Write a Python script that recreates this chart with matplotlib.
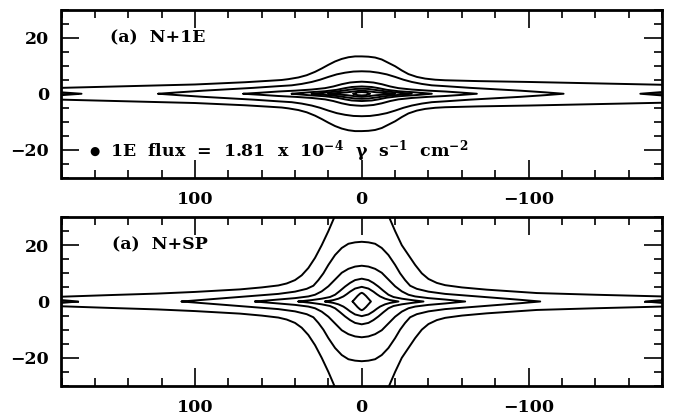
import matplotlib
matplotlib.use("Agg")
import matplotlib.pyplot as plt
from matplotlib.ticker import FixedLocator, MultipleLocator

plt.rcParams['font.family'] = ['DejaVu Serif', 'DejaVu Sans']
plt.rcParams['font.weight'] = 'bold'
plt.rcParams['mathtext.fontset'] = 'custom'
plt.rcParams['mathtext.rm'] = 'DejaVu Serif:bold'
plt.rcParams['mathtext.default'] = 'rm'

# Axis ranges and ticks (galactic longitude runs right-to-left)
lon_limits = [180, -180]
lat_limits = [-30, 30]
lon_major = [100, 0, -100]
lat_major = [-20, 0, 20]
lon_minor_step = 20
lat_minor_step = 5

panel_titles = ["(a)  N+1E", "(a)  N+SP"]
flux_label = "1E  flux  =  1.81  x  10$^{-4}$  \u03b3  s$^{-1}$  cm$^{-2}$"

# ---- N+1E model: contour half-widths in latitude (deg) vs longitude (deg) ----
# outermost level: open band across the whole sky
n1e_c1_l = [180, 140, 100, 70, 56, 48, 44, 38, 33, 28, 24, 20, 16, 12, 8, 4, 0,
            -4, -8, -12, -16, -20, -24, -28, -33, -38, -44, -50, -70, -100, -140, -180]
n1e_c1_b = [2.1, 2.7, 3.3, 4.1, 4.6, 4.9, 5.2, 5.8, 6.6, 7.8, 9.0, 10.3, 11.5, 12.4, 13.0, 13.3, 13.3,
            13.2, 12.9, 12.2, 11.0, 9.8, 8.3, 7.0, 6.0, 5.4, 5.0, 4.8, 4.5, 4.2, 3.7, 3.2]
n1e_c2_l = [122, 110, 95, 80, 65, 50, 42, 36, 30, 25, 20, 15, 10, 5, 0,
            -5, -10, -15, -20, -25, -30, -36, -42, -50, -65, -80, -95, -110, -121]
n1e_c2_b = [0.0, 0.5, 1.1, 1.6, 2.1, 2.7, 3.0, 3.5, 4.2, 5.0, 6.0, 6.9, 7.5, 7.9, 8.0,
            7.9, 7.5, 6.9, 6.0, 5.0, 4.2, 3.5, 3.0, 2.7, 2.1, 1.6, 1.1, 0.5, 0.0]
n1e_c3_l = [71, 60, 50, 40, 30, 22, 17, 12, 7, 3, 0, -3, -7, -12, -17, -22, -30, -40, -50, -60, -69]
n1e_c3_b = [0.0, 0.4, 0.8, 1.1, 1.5, 2.0, 2.6, 3.4, 4.0, 4.2, 4.3, 4.2, 4.0, 3.4, 2.6, 2.0, 1.5, 1.1, 0.8, 0.4, 0.0]
n1e_c4_l = [42, 32, 22, 15, 10, 6, 0, -6, -10, -15, -22, -32, -42]
n1e_c4_b = [0.0, 0.5, 0.9, 1.4, 2.0, 2.4, 2.6, 2.4, 2.0, 1.4, 0.9, 0.5, 0.0]
n1e_c5_l = [30, 22, 15, 9, 4, 0, -4, -9, -15, -22, -30]
n1e_c5_b = [0.0, 0.4, 0.8, 1.3, 1.7, 1.8, 1.7, 1.3, 0.8, 0.4, 0.0]
n1e_c6_l = [20, 14, 9, 5, 2, 0, -2, -5, -9, -14, -20]
n1e_c6_b = [0.0, 0.3, 0.5, 0.8, 1.0, 1.1, 1.0, 0.8, 0.5, 0.3, 0.0]
n1e_c7_l = [5, 2.5, 0, -2.5, -5]
n1e_c7_b = [0.0, 0.5, 0.6, 0.5, 0.0]
# small lens wrapping round the anticentre (l = +/-180)
n1e_wrap_left_l = [180, 168]
n1e_wrap_left_b = [0.5, 0.0]
n1e_wrap_right_l = [-180, -167]
n1e_wrap_right_b = [0.6, 0.0]

# ---- N+SP model ----
nsp_c1_l = [180, 150, 123, 100, 73, 60, 50, 45, 40, 36, 32, 28, 24, 20, 16, 12, 6, 0,
            -6, -12, -16, -20, -24, -28, -32, -36, -40, -45, -50, -60, -75, -105, -140, -180]
nsp_c1_b = [1.7, 2.3, 2.8, 3.4, 4.3, 5.0, 5.7, 6.4, 7.6, 9.3, 11.9, 15.5, 20.0, 25.0, 30.5, 35.0, 39.0, 40.0,
            39.0, 35.0, 30.5, 25.0, 20.0, 16.5, 13.0, 10.0, 8.0, 6.6, 5.8, 5.0, 4.2, 3.0, 2.4, 1.8]
nsp_c2_l = [108, 95, 80, 65, 50, 40, 33, 29, 26, 23, 20, 16, 12, 8, 4, 0,
            -4, -8, -12, -16, -20, -23, -26, -29, -33, -40, -50, -65, -80, -95, -107]
nsp_c2_b = [0.0, 0.6, 1.3, 2.0, 2.7, 3.5, 4.5, 5.6, 7.6, 10.0, 13.0, 16.5, 19.0, 20.5, 21.0, 21.2,
            21.0, 20.5, 19.0, 16.5, 13.0, 10.0, 7.6, 5.6, 4.5, 3.5, 2.7, 2.0, 1.3, 0.6, 0.0]
nsp_c3_l = [64, 50, 40, 32, 28, 24, 20, 16, 12, 8, 4, 0,
            -4, -8, -12, -16, -20, -24, -28, -32, -40, -50, -62]
nsp_c3_b = [0.0, 0.7, 1.2, 1.8, 2.4, 3.6, 5.4, 7.8, 10.2, 11.6, 12.4, 12.7,
            12.4, 11.6, 10.2, 7.8, 5.4, 3.6, 2.4, 1.8, 1.2, 0.7, 0.0]
nsp_c4_l = [38, 30, 24, 19, 16, 13, 10, 7, 4, 0, -4, -7, -10, -13, -16, -19, -24, -30, -37]
nsp_c4_b = [0.0, 0.5, 1.0, 1.6, 2.4, 3.8, 5.3, 6.6, 7.6, 8.1, 7.6, 6.6, 5.3, 3.8, 2.4, 1.6, 1.0, 0.5, 0.0]
nsp_c5_l = [22, 17, 14, 11, 9, 7, 4, 0, -4, -7, -9, -11, -14, -17, -22]
nsp_c5_b = [0.0, 0.5, 1.0, 1.8, 2.6, 3.5, 4.6, 5.2, 4.6, 3.5, 2.6, 1.8, 1.0, 0.5, 0.0]
nsp_c6_l = [5.5, 4, 2.5, 1, 0, -1, -2.5, -4, -5.5]
nsp_c6_b = [0.0, 1.0, 2.0, 2.8, 3.1, 2.8, 2.0, 1.0, 0.0]
nsp_wrap_left_l = [180, 170]
nsp_wrap_left_b = [0.5, 0.0]
nsp_wrap_right_l = [-180, -170]
nsp_wrap_right_b = [0.5, 0.0]

LINE = dict(color='black', lw=1.4, solid_joinstyle='round', solid_capstyle='round')
TEXT_SIZE = 12.5


def draw_open(ax, lon, half):
    """Band contour that runs off both ends of the map: upper and lower edges."""
    ax.plot(lon, half, **LINE)
    ax.plot(lon, [-h for h in half], **LINE)


def draw_closed(ax, lon, half):
    """Contour closing on the plane at both longitude tips."""
    xs = list(lon) + list(lon[::-1])
    ys = list(half) + [-h for h in half[::-1]]
    ax.plot(xs, ys, **LINE)


def draw_wrap(ax, lon, half):
    xs = list(lon) + list(lon[-2::-1])
    ys = list(half) + [-h for h in half[-2::-1]]
    ax.plot(xs, ys, **LINE)


def style_axes(ax):
    ax.set_xlim(lon_limits)
    ax.set_ylim(lat_limits)
    ax.xaxis.set_major_locator(FixedLocator(lon_major))
    ax.yaxis.set_major_locator(FixedLocator(lat_major))
    ax.xaxis.set_minor_locator(MultipleLocator(lon_minor_step))
    ax.yaxis.set_minor_locator(MultipleLocator(lat_minor_step))
    ax.set_xticklabels([f"{v:d}".replace('-', '\u2212') for v in lon_major])
    ax.set_yticklabels([f"{v:d}".replace('-', '\u2212') for v in lat_major])
    ax.tick_params(which='both', direction='in', top=True, right=True, width=1.2,
                   labelsize=TEXT_SIZE, colors='black')
    ax.tick_params(which='major', length=13, pad=9)
    ax.tick_params(which='minor', length=6)
    for sp in ax.spines.values():
        sp.set_linewidth(2.0)


fig = plt.figure(figsize=(6.73, 4.20), dpi=100)
ax_top = fig.add_axes([61.5 / 673, 1 - 178 / 420, 600.5 / 673, 168.5 / 420])
ax_bot = fig.add_axes([61.5 / 673, 1 - 386 / 420, 600.5 / 673, 169 / 420])

# N+1E panel
draw_open(ax_top, n1e_c1_l, n1e_c1_b)
for lon, half in [(n1e_c2_l, n1e_c2_b), (n1e_c3_l, n1e_c3_b), (n1e_c4_l, n1e_c4_b),
                  (n1e_c5_l, n1e_c5_b), (n1e_c6_l, n1e_c6_b), (n1e_c7_l, n1e_c7_b)]:
    draw_closed(ax_top, lon, half)
draw_wrap(ax_top, n1e_wrap_left_l, n1e_wrap_left_b)
draw_wrap(ax_top, n1e_wrap_right_l, n1e_wrap_right_b)
ax_top.text(151, 20, panel_titles[0], fontsize=TEXT_SIZE, ha='left', va='center')
ax_top.text(163.5, -20.5, "\u25cf", fontsize=8.5, ha='left', va='center',
            family=['DejaVu Sans'])
ax_top.text(151, -20.5, flux_label, fontsize=TEXT_SIZE, ha='left', va='center')

# N+SP panel
draw_open(ax_bot, nsp_c1_l, nsp_c1_b)
for lon, half in [(nsp_c2_l, nsp_c2_b), (nsp_c3_l, nsp_c3_b), (nsp_c4_l, nsp_c4_b),
                  (nsp_c5_l, nsp_c5_b), (nsp_c6_l, nsp_c6_b)]:
    draw_closed(ax_bot, lon, half)
draw_wrap(ax_bot, nsp_wrap_left_l, nsp_wrap_left_b)
draw_wrap(ax_bot, nsp_wrap_right_l, nsp_wrap_right_b)
ax_bot.text(150, 20, panel_titles[1], fontsize=TEXT_SIZE, ha='left', va='center')

for ax in (ax_top, ax_bot):
    style_axes(ax)

fig.savefig("out.png", dpi=100)
